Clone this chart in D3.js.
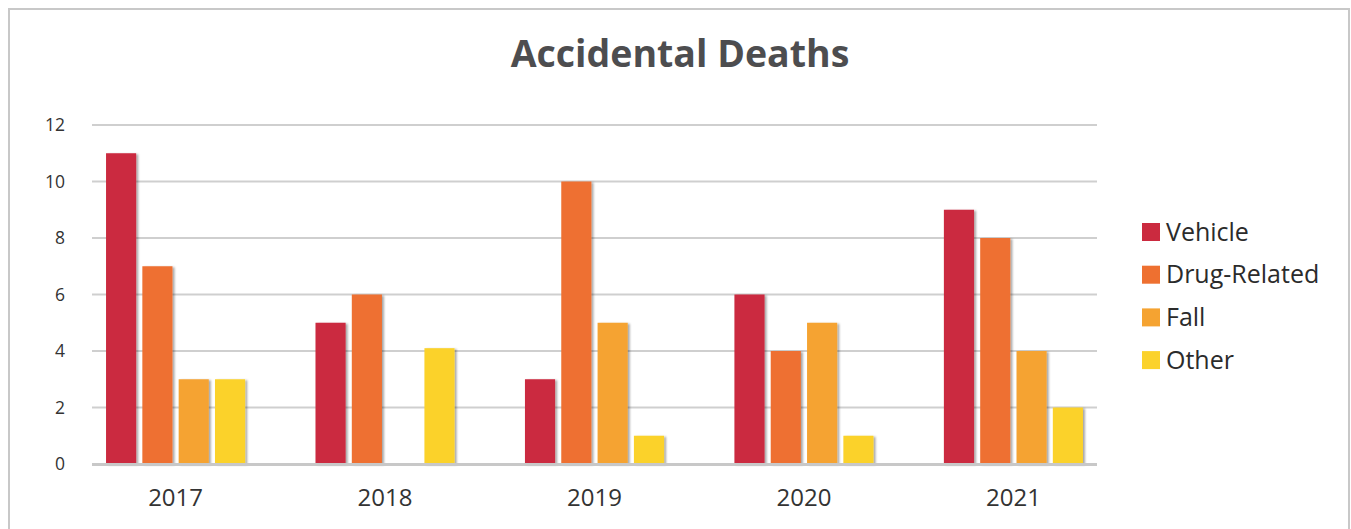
<!DOCTYPE html>
<html>
<head>
<meta charset="utf-8">
<style>
  body { margin: 0; background: #fff; }
  svg { display: block; }
  .grid line { stroke: #cfcfcf; stroke-width: 2; }
  .ytick text { font-family: "Open Sans", sans-serif; font-size: 17.5px; fill: #333; }
  .xlab { font-family: "Open Sans", sans-serif; font-size: 24px; fill: #333; }
  .legend text { font-family: "Open Sans", sans-serif; font-size: 25px; fill: #2b2b2b; }
</style>
</head>
<body>
<svg width="1351" height="529"></svg>
<script src="https://d3js.org/d3.v7.min.js"></script>
<script>
var years = ["2017", "2018", "2019", "2020", "2021"];
var seriesNames = ["Vehicle", "Drug-Related", "Fall", "Other"];
var vehicle = [11, 5, 3, 6, 9];
var drugRelated = [7, 6, 10, 4, 8];
var fall = [3, 0, 5, 5, 4];
var other = [3, 4.1, 1, 1, 2];
var yTicks = [0, 2, 4, 6, 8, 10, 12];
var colors = ["#cb2a3f", "#ee7030", "#f5a331", "#fbd22b"];

var allSeries = [vehicle, drugRelated, fall, other];

var svg = d3.select("svg");

// outer frame
svg.append("rect")
    .attr("x", 9).attr("y", 9)
    .attr("width", 1340).attr("height", 540)
    .attr("fill", "none")
    .attr("stroke", "#c8c8c8")
    .attr("stroke-width", 2);

var defs = svg.append("defs");
var f = defs.append("filter").attr("id", "shadow")
    .attr("x", "-20%").attr("y", "-5%").attr("width", "150%").attr("height", "115%");
f.append("feDropShadow")
    .attr("dx", 2).attr("dy", 1)
    .attr("stdDeviation", 1.2)
    .attr("flood-color", "#000")
    .attr("flood-opacity", 0.35);

var plotL = 92, plotR = 1097, plotT = 125, plotB = 464;

var y = d3.scaleLinear().domain([0, 12]).range([plotB, plotT]);

var x0 = d3.scaleBand().domain(years)
    .range([plotL, plotR])
    .paddingInner(0.336)
    .paddingOuter(0.067);

var x1 = d3.scaleBand().domain(seriesNames)
    .range([0, x0.bandwidth()])
    .paddingInner(0.17);

// title
svg.append("text")
    .attr("x", 680).attr("y", 67)
    .attr("text-anchor", "middle")
    .style("font-family", "'Open Sans', sans-serif")
    .style("font-weight", "bold")
    .style("font-size", "37.5px")
    .style("fill", "#4d4d4f")
    .text("Accidental Deaths");

// gridlines
var grid = svg.append("g").attr("class", "grid");
grid.selectAll("line")
    .data(yTicks.filter(function(d) { return d > 0; }))
    .enter().append("line")
    .attr("x1", plotL).attr("x2", plotR)
    .attr("y1", function(d) { return y(d); })
    .attr("y2", function(d) { return y(d); });

// y tick labels
svg.append("g").attr("class", "ytick")
    .selectAll("text")
    .data(yTicks)
    .enter().append("text")
    .attr("x", 65)
    .attr("y", function(d) { return y(d); })
    .attr("dy", "0.35em")
    .attr("text-anchor", "end")
    .text(function(d) { return d; });

// bars
var groups = svg.selectAll(".yr")
    .data(years)
    .enter().append("g")
    .attr("class", "yr")
    .attr("transform", function(d) { return "translate(" + x0(d) + ",0)"; });

groups.selectAll("rect")
    .data(function(d, i) {
      return seriesNames.map(function(s, j) { return {name: s, value: allSeries[j][i], c: colors[j]}; });
    })
    .enter().filter(function(d) { return d.value > 0; })
    .append("rect")
    .attr("x", function(d) { return x1(d.name); })
    .attr("y", function(d) { return y(d.value); })
    .attr("width", x1.bandwidth())
    .attr("height", function(d) { return y(0) - y(d.value); })
    .attr("fill", function(d) { return d.c; })
    .attr("filter", "url(#shadow)");

// baseline
svg.append("line")
    .attr("x1", plotL).attr("x2", plotR)
    .attr("y1", y(0) + 0.5).attr("y2", y(0) + 0.5)
    .attr("stroke", "#c8c8c8")
    .attr("stroke-width", 3);

// x labels
svg.selectAll(".xlab")
    .data(years)
    .enter().append("text")
    .attr("class", "xlab")
    .attr("x", function(d) { return x0(d) + x0.bandwidth() / 2; })
    .attr("y", 506)
    .attr("text-anchor", "middle")
    .text(function(d) { return d; });

// legend
var legend = svg.append("g").attr("class", "legend")
    .selectAll("g")
    .data(seriesNames)
    .enter().append("g")
    .attr("transform", function(d, i) { return "translate(1142," + (232 + i * 42.7) + ")"; });

legend.append("rect")
    .attr("x", 0).attr("y", -9)
    .attr("width", 18).attr("height", 18)
    .attr("fill", function(d, i) { return colors[i]; });

legend.append("text")
    .attr("x", 24)
    .attr("y", 0)
    .attr("dy", "0.35em")
    .text(function(d) { return d; });
</script>
</body>
</html>
